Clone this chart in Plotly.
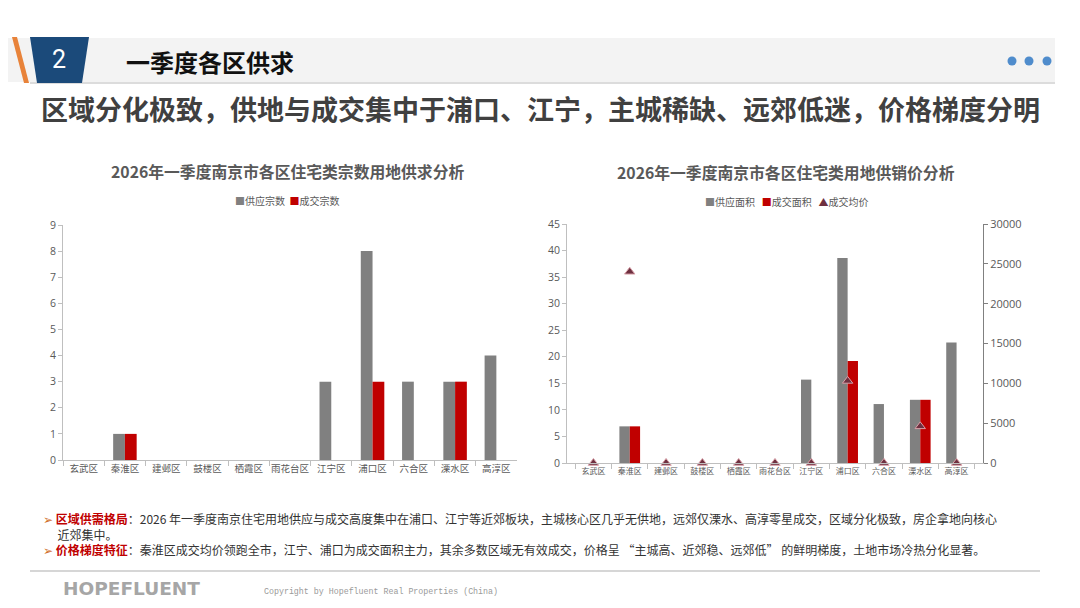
import plotly.graph_objects as go

W, H = 1080, 608
# the page body adds an 8px margin around the figure; design coordinates below
# are in screen pixels, converted to paper fractions with that offset removed
OFF = 8

# ---------------- data ----------------
districts = ["玄武区", "秦淮区", "建邺区", "鼓楼区", "栖霞区", "雨花台区",
             "江宁区", "浦口区", "六合区", "溧水区", "高淳区"]

supply_count = [0, 1, 0, 0, 0, 0, 3, 8, 3, 3, 4]
deal_count = [0, 1, 0, 0, 0, 0, 0, 3, 0, 3, 0]

supply_area = [0, 6.9, 0, 0, 0, 0, 15.7, 38.6, 11.1, 11.9, 22.7]
deal_area = [0, 6.9, 0, 0, 0, 0, 0, 19.2, 0, 11.9, 0]
deal_price = [0, 24000, 0, 0, 0, 0, 0, 10300, 0, 4600, 0]

left_names = ["供应宗数", "成交宗数"]
right_names = ["供应面积", "成交面积", "成交均价"]

left_ticks = list(range(0, 10, 1))
right_ticks = list(range(0, 50, 5))
price_ticks = list(range(0, 35000, 5000))

GRAY = "#808080"
RED = "#c00000"
TRI = "#6e3040"
TXT = "#595959"
AX = "#bfbfbf"
CJK = "Noto Sans CJK SC, DejaVu Sans, sans-serif"
NUM = "Open Sans, DejaVu Sans, sans-serif"


def px(x):
    return max(0.0, (x - OFF) / W)


def py(y):
    return 1 - (y - OFF) / H


fig = go.Figure()

# left chart
fig.add_trace(go.Bar(x=districts, y=supply_count, name=left_names[0],
                     marker=dict(color=GRAY, line=dict(width=0)),
                     xaxis="x", yaxis="y", showlegend=False))
fig.add_trace(go.Bar(x=districts, y=deal_count, name=left_names[1],
                     marker=dict(color=RED, line=dict(width=0)),
                     xaxis="x", yaxis="y", showlegend=False))

# right chart
fig.add_trace(go.Bar(x=districts, y=supply_area, name=right_names[0],
                     marker=dict(color=GRAY, line=dict(width=0)),
                     xaxis="x2", yaxis="y2", showlegend=False))
fig.add_trace(go.Bar(x=districts, y=deal_area, name=right_names[1],
                     marker=dict(color=RED, line=dict(width=0)),
                     xaxis="x2", yaxis="y2", showlegend=False))
fig.add_trace(go.Scatter(x=districts, y=deal_price, name=right_names[2],
                         mode="markers", cliponaxis=False,
                         marker=dict(symbol="triangle-up", size=9, color=TRI,
                                     line=dict(width=1, color="#d9a0a8")),
                         xaxis="x2", yaxis="y3", showlegend=False))


def xax(size):
    return dict(type="category", tickson="boundaries", ticks="outside",
                ticklen=5, tickcolor=AX, showline=True, linecolor=AX,
                linewidth=1, showgrid=False, zeroline=False, automargin=False,
                tickangle=0, tickfont=dict(family=CJK, size=size, color=TXT))


def yax(size, color=AX):
    return dict(ticks="outside", ticklen=4, tickcolor=color, showline=True,
                linecolor=color, linewidth=1, showgrid=False, zeroline=False,
                automargin=False, tickformat="d",
                tickfont=dict(family=NUM, size=size, color=TXT))


fig.update_layout(
    width=W, height=H,
    margin=dict(l=0, r=0, t=0, b=0, pad=0, autoexpand=False),
    paper_bgcolor="white", plot_bgcolor="white",
    barmode="group", bargap=0.43, bargroupgap=0,
    showlegend=False,
    xaxis=dict(domain=[px(63), px(517)], anchor="y", **xax(9.5)),
    yaxis=dict(domain=[py(460), py(225)], anchor="x", range=[0, 9],
               tickvals=left_ticks, **yax(10.5)),
    xaxis2=dict(domain=[px(567), px(983)], anchor="y2", **xax(8)),
    yaxis2=dict(domain=[py(463), py(224)], anchor="x2", range=[0, 45],
                tickvals=right_ticks, **yax(10.5)),
    yaxis3=dict(overlaying="y2", side="right", anchor="x2", range=[0, 30000],
                tickvals=price_ticks, **yax(11, GRAY)),
)

shapes = []
# header band
shapes.append(dict(type="rect", xref="paper", yref="paper",
                   x0=px(0), x1=px(1055), y0=py(82), y1=py(38),
                   fillcolor="#f3f3f3", line=dict(width=0), layer="below"))
shapes.append(dict(type="line", xref="paper", yref="paper",
                   x0=px(30), x1=px(1055), y0=py(83), y1=py(83),
                   line=dict(color="#d0d0d0", width=1.5)))
# blue trapezoid
shapes.append(dict(type="path", xref="paper", yref="paper",
                   path=f"M {px(30)},{py(37)} L {px(89)},{py(37)} L {px(82)},{py(83)} L {px(37)},{py(83)} Z",
                   fillcolor="#1b4a7a", line=dict(width=0)))
# orange stripe
shapes.append(dict(type="path", xref="paper", yref="paper",
                   path=f"M {px(12)},{py(37)} L {px(17)},{py(37)} L {px(29)},{py(83)} L {px(24)},{py(83)} Z",
                   fillcolor="#e8833a", line=dict(width=0)))
# dots
for cx in (1012, 1029, 1047):
    shapes.append(dict(type="circle", xref="paper", yref="paper",
                       x0=px(cx - 4.5), x1=px(cx + 4.5), y0=py(61 + 4.5), y1=py(61 - 4.5),
                       fillcolor="#4f8ccc", line=dict(width=0)))
# footer line
shapes.append(dict(type="line", xref="paper", yref="paper",
                   x0=px(30), x1=px(1040), y0=py(571), y1=py(571),
                   line=dict(color="#c8c8c8", width=1.5)))
fig.update_layout(shapes=shapes)

ann = []


def text(x, y, s, size, color, xanchor="left", family=CJK, bold=False):
    if bold:
        s = f"<b>{s}</b>"
    ann.append(dict(xref="paper", yref="paper", x=px(x), y=py(y), text=s,
                    showarrow=False, xanchor=xanchor, yanchor="middle",
                    align="left", font=dict(family=family, size=size, color=color)))


text(59, 60, "2", 25, "white", xanchor="center", family="Roboto, Liberation Sans, sans-serif")
text(124, 62, "一季度各区供求", 24, "#111111", bold=True)
text(540, 108, "区域分化极致，供地与成交集中于浦口、江宁，主城稀缺、远郊低迷，价格梯度分明",
     27, "#404040", xanchor="center", bold=True)

# chart titles
text(287, 171, "2026年一季度南京市各区住宅类宗数用地供求分析", 15.8, TXT, xanchor="center", bold=True)
text(786, 172, "2026年一季度南京市各区住宅类用地供销价分析", 15.8, TXT, xanchor="center", bold=True)

# legends
text(287, 201,
     f"<span style='color:{GRAY}'>■</span>{left_names[0]}  "
     f"<span style='color:{RED}'>■</span>{left_names[1]}",
     10, TXT, xanchor="center")
text(786, 202,
     f"<span style='color:{GRAY}'>■</span>{right_names[0]}   "
     f"<span style='color:{RED}'>■</span>{right_names[1]}   "
     f"<span style='color:{TRI}'>▲</span>{right_names[2]}",
     10, TXT, xanchor="center")

# body text
bullet = "<span style='color:#d0702c'>➢</span>"
body = (f"{bullet} <span style='color:#c00000'><b>区域供需格局</b></span>："
        "2026 年一季度南京住宅用地供应与成交高度集中在浦口、江宁等近郊板块，主城核心区几乎无供地，"
        "远郊仅溧水、高淳零星成交，区域分化极致，房企拿地向核心"
        "<br>\u3000\u2009近郊集中。<br>"
        f"{bullet} <span style='color:#c00000'><b>价格梯度特征</b></span>："
        "秦淮区成交均价领跑全市，江宁、浦口为成交面积主力，其余多数区域无有效成交，"
        "价格呈 “主城高、近郊稳、远郊低” 的鲜明梯度，土地市场冷热分化显著。")
text(41, 533.5, body, 12, "#333333")

# footer
text(61, 588, "HOPEFLUENT", 18.5, "#a6a6a6", family="DejaVu Sans, sans-serif", bold=True)
text(262, 591, "Copyright by Hopefluent Real Properties (China)", 8.3, "#9a9a9a",
     family="Liberation Mono, DejaVu Sans Mono, monospace")

fig.update_layout(annotations=ann)

fig.write_html("out.html")
